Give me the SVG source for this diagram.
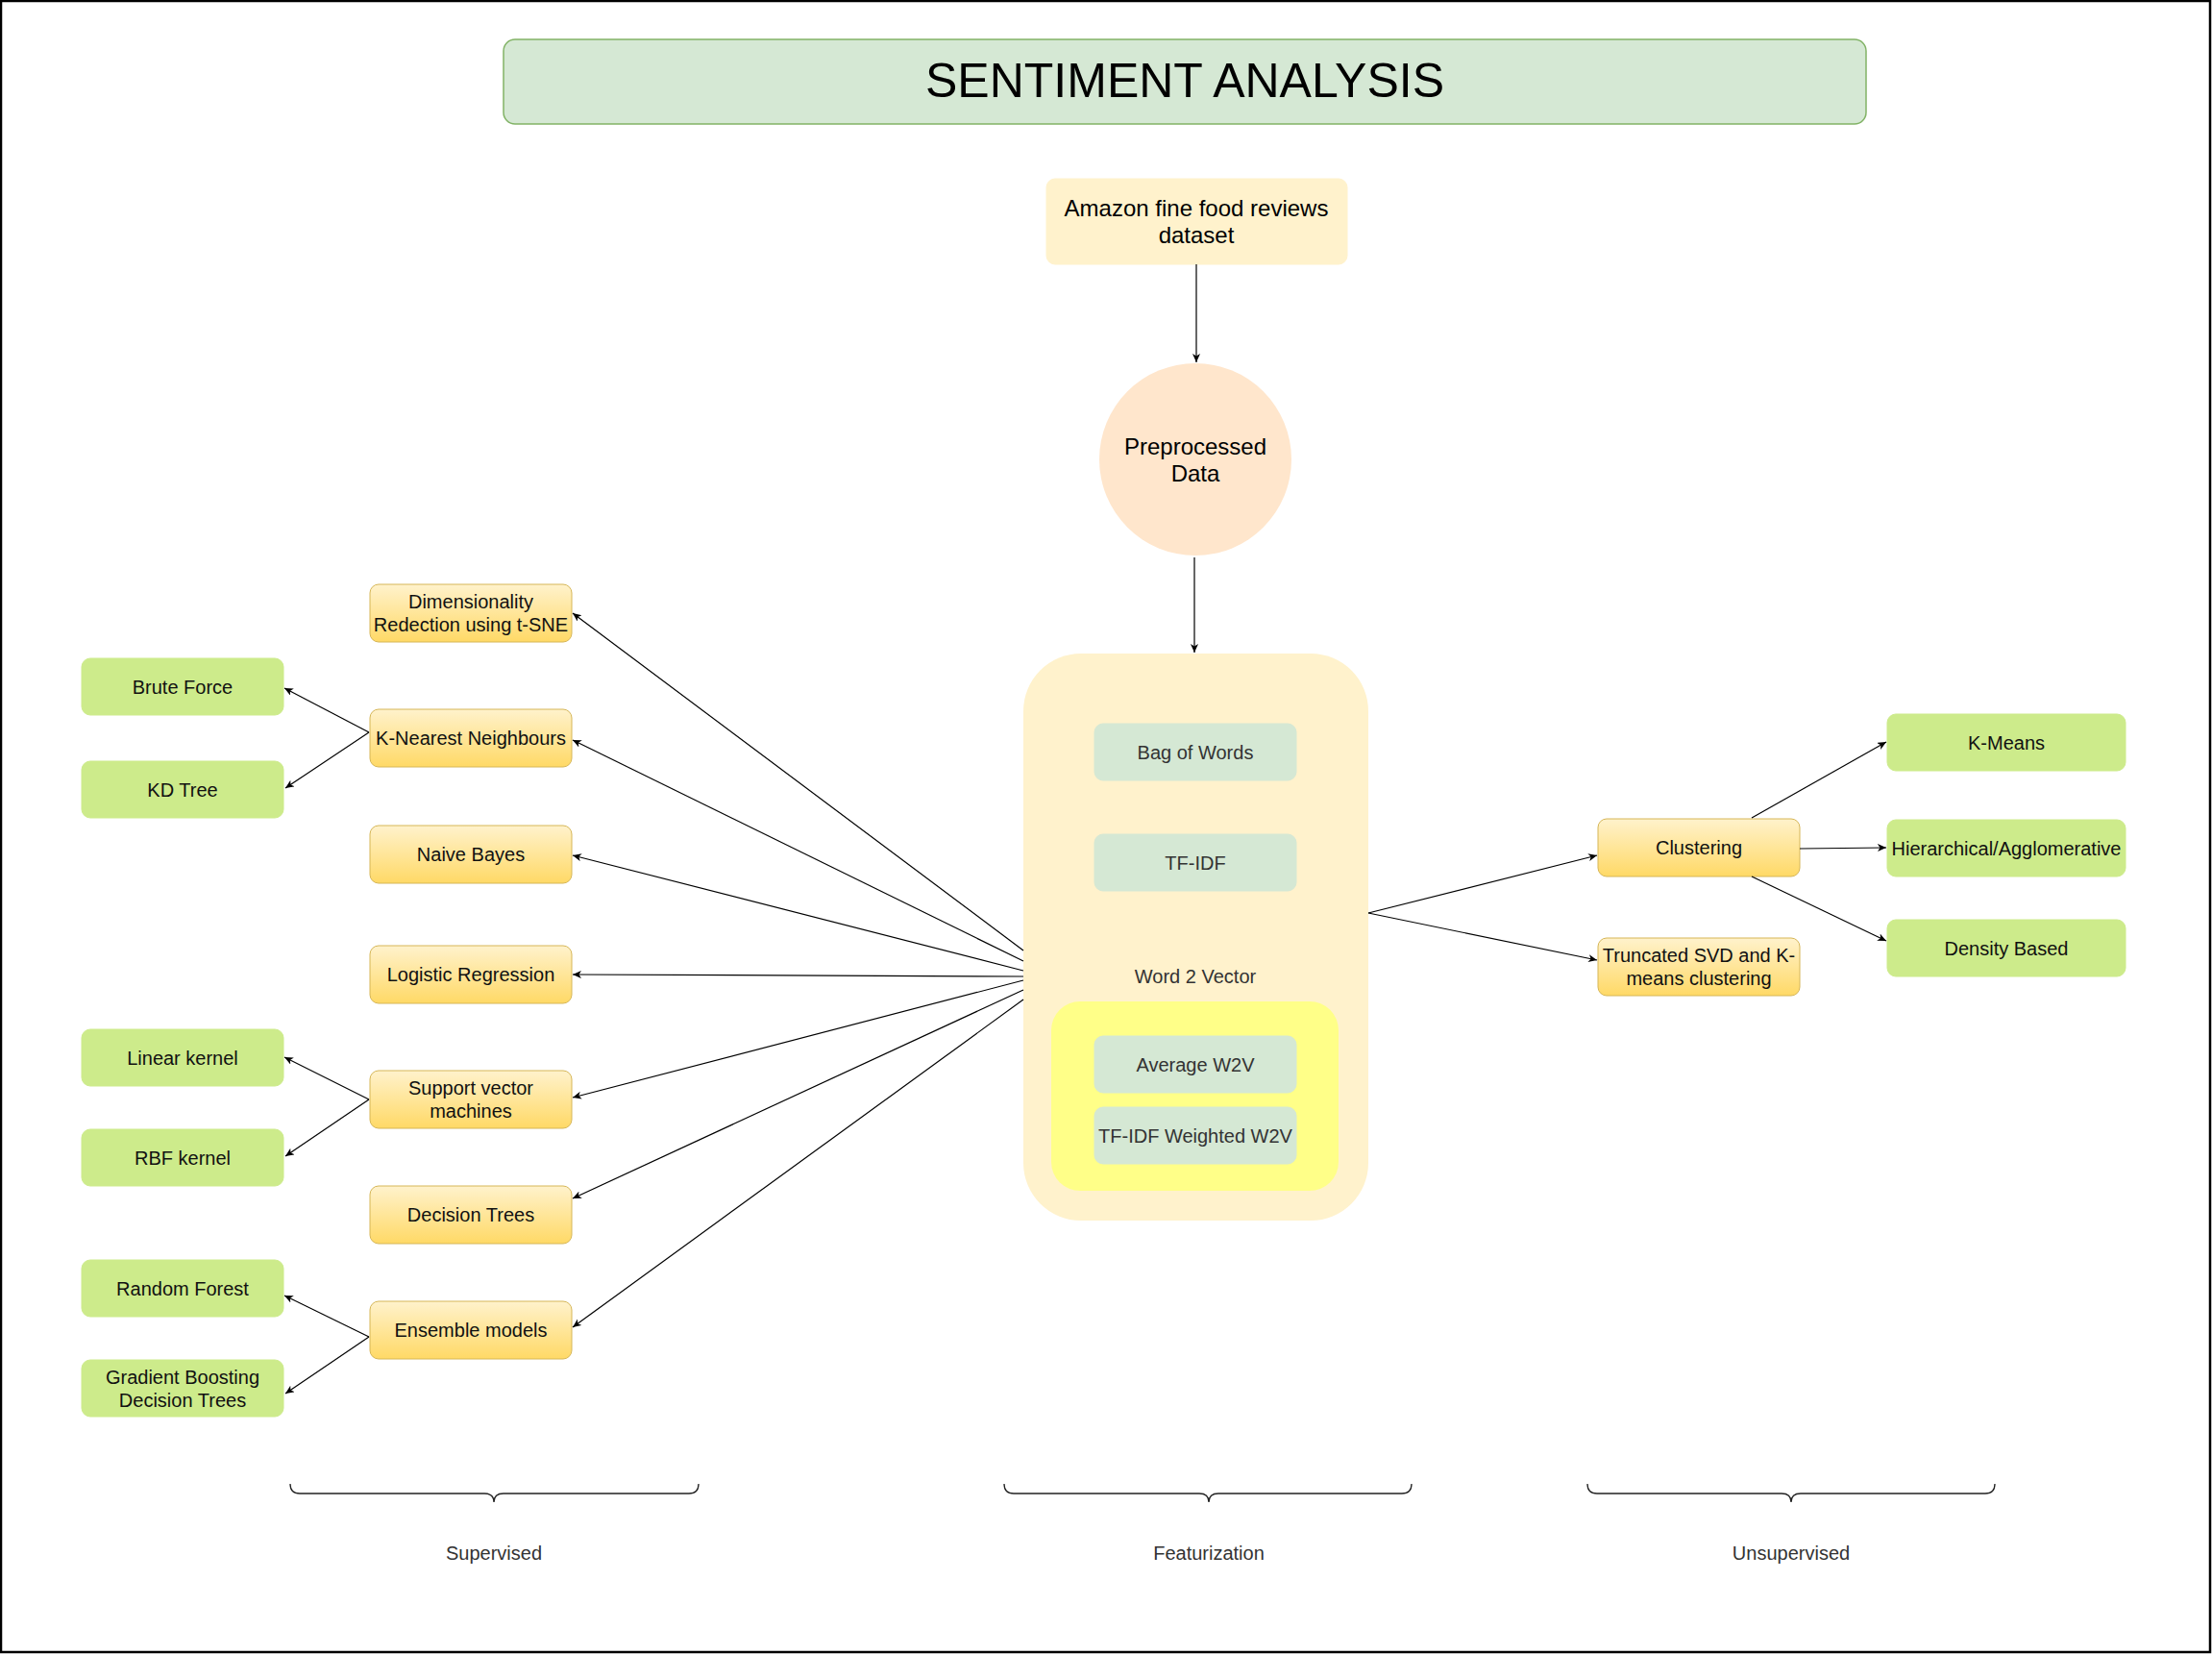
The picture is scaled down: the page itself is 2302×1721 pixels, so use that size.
<svg xmlns="http://www.w3.org/2000/svg" width="2302" height="1721" viewBox="0 0 2302 1721">
<defs>
<linearGradient id="og" x1="0" y1="0" x2="0" y2="1">
<stop offset="0" stop-color="#fff2cc"/>
<stop offset="1" stop-color="#ffd966"/>
</linearGradient>
<marker id="ar" markerUnits="userSpaceOnUse" markerWidth="10" markerHeight="10" refX="9" refY="4" orient="auto">
<path d="M0,0 L9,4 L0,8 L2.5,4 z" fill="#000"/>
</marker>
</defs>
<style>
text{font-family:"Liberation Sans",Arial,sans-serif;text-anchor:middle;dominant-baseline:central}
.t{font-size:20px;fill:#111}
.g{font-size:20px;fill:#333}
.o{fill:url(#og);stroke:#d6b656;stroke-width:1}
.gr{fill:#cdeb8b;stroke:#cdeb8b}
.f{fill:#d5e8d4;stroke:#d5e8d4}
.c line,.c path{stroke:#000;stroke-width:1.2;fill:none}
.c line{marker-end:url(#ar)}
.br{stroke:#222;stroke-width:1.3;fill:none}
</style>
<rect x="0" y="0" width="2302" height="1721" fill="#fff"/>
<rect x="1" y="1" width="2299" height="1718" fill="none" stroke="#000" stroke-width="2.5"/>

<g id="title">
<rect x="524" y="41" width="1418" height="88" rx="12" fill="#d5e8d4" stroke="#82b366" stroke-width="1.5"/>
<text x="1233" y="84" style="font-size:50px;fill:#000">SENTIMENT ANALYSIS</text>
</g>
<g id="amazon">
<rect x="1089" y="186" width="313" height="89" rx="9" fill="#fff2cc" stroke="#fff2cc"/>
<text x="1245" y="216" style="font-size:24px;fill:#000">Amazon fine food reviews</text>
<text x="1245" y="244" style="font-size:24px;fill:#000">dataset</text>
</g>
<g id="preprocessed">
<circle cx="1244" cy="478" r="100" fill="#ffe6cc"/>
<text x="1244" y="464" style="font-size:24px;fill:#000">Preprocessed</text>
<text x="1244" y="492" style="font-size:24px;fill:#000">Data</text>
</g>
<g id="featurization">
<rect x="1065" y="680" width="359" height="590" rx="60" fill="#fff2cc"/>
<g id="bow"><rect x="1139" y="753" width="210" height="59" rx="9" class="f"/><text x="1244" y="783" class="g">Bag of Words</text></g>
<g id="tfidf"><rect x="1139" y="868" width="210" height="59" rx="9" class="f"/><text x="1244" y="898" class="g">TF-IDF</text></g>
<text x="1244" y="1016" class="g">Word 2 Vector</text>
<g id="w2v">
<rect x="1094" y="1042" width="299" height="197" rx="30" fill="#ffff88"/>
<g id="avgw2v"><rect x="1139" y="1078" width="210" height="59" rx="9" class="f"/><text x="1244" y="1108" class="g">Average W2V</text></g>
<g id="tfidfw2v"><rect x="1139" y="1152" width="210" height="59" rx="9" class="f"/><text x="1244" y="1182" class="g">TF-IDF Weighted W2V</text></g>
</g>
</g>

<g id="dim"><rect x="385" y="608" width="210" height="60" rx="9" class="o"/><text x="490" y="626" class="t">Dimensionality</text><text x="490" y="650" class="t">Redection using t-SNE</text></g>
<g id="knn"><rect x="385" y="738" width="210" height="60" rx="9" class="o"/><text x="490" y="768" class="t">K-Nearest Neighbours</text></g>
<g id="nb"><rect x="385" y="859" width="210" height="60" rx="9" class="o"/><text x="490" y="889" class="t">Naive Bayes</text></g>
<g id="lr"><rect x="385" y="984" width="210" height="60" rx="9" class="o"/><text x="490" y="1014" class="t">Logistic Regression</text></g>
<g id="svm"><rect x="385" y="1114" width="210" height="60" rx="9" class="o"/><text x="490" y="1132" class="t">Support vector</text><text x="490" y="1156" class="t">machines</text></g>
<g id="dt"><rect x="385" y="1234" width="210" height="60" rx="9" class="o"/><text x="490" y="1264" class="t">Decision Trees</text></g>
<g id="ens"><rect x="385" y="1354" width="210" height="60" rx="9" class="o"/><text x="490" y="1384" class="t">Ensemble models</text></g>

<g id="bf"><rect x="85" y="685" width="210" height="59" rx="9" class="gr"/><text x="190" y="715" class="t">Brute Force</text></g>
<g id="kd"><rect x="85" y="792" width="210" height="59" rx="9" class="gr"/><text x="190" y="822" class="t">KD Tree</text></g>
<g id="lin"><rect x="85" y="1071" width="210" height="59" rx="9" class="gr"/><text x="190" y="1101" class="t">Linear kernel</text></g>
<g id="rbf"><rect x="85" y="1175" width="210" height="59" rx="9" class="gr"/><text x="190" y="1205" class="t">RBF kernel</text></g>
<g id="rf"><rect x="85" y="1311" width="210" height="59" rx="9" class="gr"/><text x="190" y="1341" class="t">Random Forest</text></g>
<g id="gbdt"><rect x="85" y="1415" width="210" height="59" rx="9" class="gr"/><text x="190" y="1433" class="t">Gradient Boosting</text><text x="190" y="1457" class="t">Decision Trees</text></g>

<g id="clustering"><rect x="1663" y="852" width="210" height="60" rx="9" class="o"/><text x="1768" y="882" class="t">Clustering</text></g>
<g id="tsvd"><rect x="1663" y="976" width="210" height="60" rx="9" class="o"/><text x="1768" y="994" class="t">Truncated SVD and K-</text><text x="1768" y="1018" class="t">means clustering</text></g>
<g id="kmeans"><rect x="1964" y="743" width="248" height="59" rx="9" class="gr"/><text x="2088" y="773" class="t">K-Means</text></g>
<g id="hier"><rect x="1964" y="853" width="248" height="59" rx="9" class="gr"/><text x="2088" y="883" class="t">Hierarchical/Agglomerative</text></g>
<g id="density"><rect x="1964" y="957" width="248" height="59" rx="9" class="gr"/><text x="2088" y="987" class="t">Density Based</text></g>

<g id="connectors" class="c">
<line x1="1245" y1="275" x2="1245" y2="377"/>
<line x1="1243" y1="580" x2="1243" y2="679"/>
<line x1="1065" y1="989" x2="596" y2="638"/>
<line x1="1065" y1="1000" x2="596" y2="770"/>
<line x1="1065" y1="1010" x2="596" y2="890"/>
<line x1="1065" y1="1016" x2="596" y2="1014"/>
<line x1="1065" y1="1020" x2="596" y2="1142"/>
<line x1="1065" y1="1030" x2="596" y2="1247"/>
<line x1="1065" y1="1040" x2="596" y2="1381"/>
<line x1="384" y1="762" x2="296" y2="716"/>
<line x1="384" y1="762" x2="297" y2="820"/>
<line x1="384" y1="1144" x2="296" y2="1100"/>
<line x1="384" y1="1144" x2="297" y2="1203"/>
<line x1="384" y1="1391" x2="296" y2="1348"/>
<line x1="384" y1="1391" x2="297" y2="1450"/>
<line x1="1424" y1="950" x2="1662" y2="890"/>
<line x1="1424" y1="950" x2="1662" y2="999"/>
<line x1="1823" y1="851" x2="1963" y2="772"/>
<line x1="1873" y1="883" x2="1963" y2="882"/>
<line x1="1823" y1="912" x2="1963" y2="979"/>
</g>

<g id="braces">
<path class="br" d="M302,1544 Q302,1554 312,1554 L504,1554 Q514,1554 514,1563 Q514,1554 524,1554 L717,1554 Q727,1554 727,1544"/>
<path class="br" d="M1045,1544 Q1045,1554 1055,1554 L1248,1554 Q1258,1554 1258,1563 Q1258,1554 1268,1554 L1459,1554 Q1469,1554 1469,1544"/>
<path class="br" d="M1652,1544 Q1652,1554 1662,1554 L1854,1554 Q1864,1554 1864,1563 Q1864,1554 1874,1554 L2066,1554 Q2076,1554 2076,1544"/>
<text x="514" y="1616" class="g">Supervised</text>
<text x="1258" y="1616" class="g">Featurization</text>
<text x="1864" y="1616" class="g">Unsupervised</text>
</g>
</svg>
